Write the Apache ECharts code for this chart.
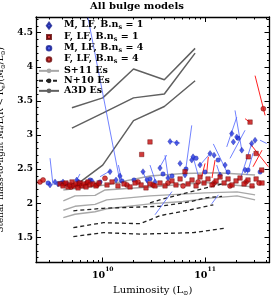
<!DOCTYPE html>
<html><head><meta charset="utf-8">
<script src="https://cdn.jsdelivr.net/npm/echarts@6/dist/echarts.min.js"></script>
<style>html,body{margin:0;padding:0;background:#fff}#c{width:274px;height:296px}</style>
</head><body><div id="c"></div>
<script>
// x values are log10(Luminosity / Lsun), y values are M*/L
var xRange = [9.348, 11.63];
var yRange = [1.13, 4.73];
var xMajorTicks = [10, 11];
var yMajorTicks = [1.5, 2, 2.5, 3, 3.5, 4, 4.5];

// A3D Es
var a3dX = [9.699, 10.0, 10.301, 10.602, 10.903];
var a3d1 = [3.398, 3.544, 3.967, 3.811, 4.27];
var a3d2 = [3.10, 3.32, 3.544, 3.60, 4.20];
var a3d3 = [2.22, 2.558, 3.21, 3.417, 3.795];

// S+11 Es
var s11_0 = [[9.615,2.194],[10.023,2.267],[10.462,2.398],[10.785,2.435],[11.118,2.446],[11.489,2.413]];
var s11_1 = [[9.615,2.034],[9.729,2.107],[9.925,2.114],[10.023,2.194],[10.462,2.238],[11.0,2.304],[11.489,2.238]];
var s11_2 = [[9.615,1.896],[9.729,1.954],[9.925,1.983],[10.039,2.048],[10.462,2.107],[11.0,2.151],[11.313,2.165],[11.489,2.121]];
var s11_3 = [[9.615,1.787],[9.729,1.838],[9.925,1.874],[10.039,1.918],[10.462,1.990],[10.785,2.024],[11.049,2.074],[11.313,2.107],[11.489,2.049]];

// N+10 Es
var n10_1 = [[9.713,1.510],[10.006,1.568],[10.365,1.546],[10.886,1.568],[11.212,1.637]];
var n10_2 = [[9.713,1.641],[10.006,1.714],[10.365,1.699],[10.56,1.816],[10.853,1.903],[11.081,1.976]];
var n10_3 = [[9.713,1.888],[10.006,1.925],[10.56,1.954],[10.853,2.020],[11.0,2.078],[11.166,2.100]];
var n10_4 = [[10.462,2.005],[10.609,2.071],[10.853,2.165],[11.166,2.282]];

// F, LF, B.n_s = 1 (red squares)
var fN1 = [[9.583,2.282],[9.612,2.253],[9.641,2.296],[9.661,2.238],[9.680,2.267],[9.700,2.311],[9.720,2.253],[9.739,2.282],[9.759,2.224],[9.778,2.296],[9.798,2.253],[9.817,2.282],[9.837,2.238],[9.856,2.311],[9.876,2.267],[9.905,2.282],[9.934,2.253],[9.964,2.296],
[10.042,2.267],[10.091,2.311],[10.149,2.253],[10.208,2.282],[10.267,2.238],[10.316,2.296],[10.375,2.267],[10.423,2.224],[10.462,2.282],[10.511,2.253],[10.462,2.898],[10.381,2.714],[10.560,2.296],[10.609,2.253],
[10.677,2.326],[10.716,2.267],[10.756,2.355],[10.804,2.461],[10.834,2.282],[10.873,2.340],[10.912,2.253],[10.951,2.384],[10.990,2.296],[11.029,2.355],[11.068,2.267],[11.108,2.326],[11.147,2.384],[11.186,2.296],[11.225,2.355],[11.264,2.267],[11.303,2.326],[11.342,2.369],[11.381,2.282],[11.420,2.340],[11.459,2.253],[11.499,2.355],[11.440,3.189],[11.423,2.680],[11.499,2.729],[11.554,2.486],[11.557,2.296]];

// F, LF, B.n_s = 4 (red circles)
var fN4 = [[9.387,2.311],[9.417,2.340],[9.622,2.282],[9.690,2.238],[9.768,2.267],[9.846,2.296],[9.944,2.267],[10.022,2.364],[10.237,2.267],[10.345,2.311],[10.491,2.267],[10.638,2.296],[10.785,2.253],[10.932,2.311],[11.088,2.296],[11.244,2.253],[11.401,2.311],[11.570,3.385],[11.528,2.296]];

// M, LF, B.n_s = 1 (blue diamonds)
var mN1 = [[9.485,2.267],[9.534,2.311],[9.563,2.282],[9.612,2.311],[9.651,2.282],[9.746,2.340],[9.895,2.326],[10.071,2.461],[10.130,2.340],[10.169,2.398],[10.394,2.461],[10.433,2.340],[10.511,2.311],[10.723,2.883],[10.658,2.904],[10.756,2.583],[10.870,2.632],[10.883,2.680],[10.638,2.369],[10.804,2.413],[11.049,2.729],[11.088,2.704],[11.261,3.020],[11.277,2.898],[11.310,2.971],[11.456,2.875],[11.359,2.777],[11.196,2.559],[11.391,2.486],[11.147,2.413],[11.489,2.923],[10.951,2.559],[10.560,2.515]];

// M, LF, B.n_s = 4 (blue circles)
var mN4 = [[9.466,2.296],[9.593,2.296],[9.761,2.315],[9.876,2.340],[9.974,2.311],[10.188,2.326],[10.306,2.340],[10.462,2.355],[10.589,2.428],[10.677,2.398],[10.814,2.500],[11.000,2.457],[11.128,2.632],[11.225,2.457],[11.323,2.952],[11.420,2.486],[11.538,2.457],[10.912,2.660]];

// connecting segments [x1, y1, x2, y2]
var blueSegs = [[9.856,4.72,10.169,2.311],[9.485,2.660,9.514,2.267],[9.778,2.428,9.746,2.340],[9.974,2.388,10.088,2.486],[10.153,2.559,10.186,2.340],[10.511,1.830,10.677,2.170],[11.065,1.990,11.130,2.122],[10.658,2.904,10.756,2.881],[10.870,3.141,10.804,2.413],[10.883,2.680,10.932,2.413],[11.081,2.869,11.228,2.413],[11.293,3.360,11.359,2.777],[11.310,3.262,11.212,2.825],[11.391,3.069,11.244,2.657],[11.469,2.734,11.408,2.413],[11.538,2.923,11.603,2.875],[11.114,2.559,11.147,2.413],[10.462,2.559,10.511,2.340],[10.609,2.704,10.641,2.364],[10.56,2.534,10.625,2.704],[10.951,2.559,11.049,2.729],[11.342,2.340,11.456,2.875],[10.394,2.461,10.443,2.267]];
var redSegs = [[11.489,3.870,11.587,3.287],[11.391,3.239,11.440,3.185],[11.440,2.875,11.619,2.534],[11.469,2.534,11.557,2.777],[11.0,2.583,10.968,2.388],[11.032,2.680,11.016,2.438],[11.098,2.632,11.068,2.369]];

function zip(xs, ys){ return xs.map(function(x,i){return [x, ys[i]];}); }
function segData(s){ return s.map(function(a){return {coords:[[a[0],a[1]],[a[2],a[3]]]};}); }

var xMinor = [];
[9,10,11].forEach(function(n){ for (var k=2;k<=9;k++){ var v=n+Math.log10(k); if (v>xRange[0] && v<xRange[1]) xMinor.push(v);} });
var yMinor = [];
for (var i=12;i<=47;i++){ if (i%5!==0) yMinor.push(i/10); }

var FONT = 'DejaVu Serif';
var black = '#000';

function xAx(pos, ticks, len, showLine, showLabel){
  return {type:'value', min:xRange[0], max:xRange[1], position:pos,
    axisLine:{show:showLine, onZero:false, lineStyle:{color:black,width:1.3}},
    axisTick:{show:true, inside:true, length:len, customValues:ticks, lineStyle:{color:black,width:1}},
    axisLabel:{show:showLabel, customValues:ticks, margin:4,
      formatter:function(v){return '{b|10}{sup|'+Math.round(v)+'}';},
      rich:{b:{fontFamily:FONT,fontWeight:'bold',fontSize:9.5,color:black,verticalAlign:'bottom',lineHeight:14},
            sup:{fontFamily:FONT,fontWeight:'bold',fontSize:6,color:black,verticalAlign:'top',lineHeight:14}}},
    splitLine:{show:false}};
}
function yAx(pos, ticks, len, showLine, showLabel){
  return {type:'value', min:yRange[0], max:yRange[1], position:pos,
    axisLine:{show:showLine, onZero:false, lineStyle:{color:black,width:1.3}},
    axisTick:{show:true, inside:true, length:len, customValues:ticks, lineStyle:{color:black,width:1}},
    axisLabel:{show:showLabel, customValues:ticks, margin:3,
      fontFamily:FONT, fontWeight:'bold', fontSize:9, color:black},
    splitLine:{show:false}};
}

var xAxes = [xAx('bottom', xMajorTicks, 5, true, true), xAx('bottom', xMinor, 2.5, false, false),
             xAx('top', xMajorTicks, 5, true, false), xAx('top', xMinor, 2.5, false, false)];
xAxes[0].name = 'Luminosity (L{sub|⊙})';
xAxes[0].nameLocation = 'middle';
xAxes[0].nameGap = 20;
xAxes[0].nameTextStyle = {fontFamily:FONT, fontSize:10, color:black,
  rich:{sub:{fontFamily:FONT,fontSize:6.5,color:black,verticalAlign:'bottom',lineHeight:13}}};
var yAxes = [yAx('left', yMajorTicks, 5, true, true), yAx('left', yMinor, 2.5, false, false),
             yAx('right', yMajorTicks, 5, true, false), yAx('right', yMinor, 2.5, false, false)];
yAxes[0].name = 'Stellar mass-to-light M{sub|*}/L(R < R{sub|e})(M{sub|⊙}/L{sub|⊙})';
yAxes[0].nameLocation = 'middle';
yAxes[0].nameGap = 19;
yAxes[0].nameTextStyle = {fontFamily:FONT, fontSize:8.8, color:black, lineHeight:12,
  rich:{sub:{fontFamily:FONT,fontSize:6,color:black,verticalAlign:'bottom',lineHeight:12}}};

function lineS(name, data, color, width, type){
  return {type:'line', name:name, data:data, symbol:'none', silent:true, z:2,
    lineStyle:{color:color, width:width, type:type||'solid'}, itemStyle:{color:color}};
}

var series = [
  lineS('S+11 Es', s11_0, '#a8a8a8', 1.4), lineS('S+11 Es', s11_1, '#a8a8a8', 1.4),
  lineS('S+11 Es', s11_2, '#a8a8a8', 1.4), lineS('S+11 Es', s11_3, '#a8a8a8', 1.4),
  lineS('N+10 Es', n10_1, '#222', 1.3, [4,3]), lineS('N+10 Es', n10_2, '#222', 1.3, [4,3]),
  lineS('N+10 Es', n10_3, '#222', 1.3, [4,3]), lineS('N+10 Es', n10_4, '#222', 1.3, [4,3]),
  lineS('A3D Es', zip(a3dX, a3d1), '#606060', 1.5), lineS('A3D Es', zip(a3dX, a3d2), '#606060', 1.5),
  lineS('A3D Es', zip(a3dX, a3d3), '#606060', 1.5),
  {type:'lines', coordinateSystem:'cartesian2d', data:segData(blueSegs), silent:true, z:3,
    lineStyle:{color:'#4d62ff', width:0.8, opacity:1}},
  {type:'lines', coordinateSystem:'cartesian2d', data:segData(redSegs), silent:true, z:3,
    lineStyle:{color:'#ff2020', width:1, opacity:1}},
  {type:'scatter', name:'M, LF, B.n_s = 4', data:mN4, symbol:'circle', symbolSize:4.5, z:4,
    itemStyle:{color:'#2436e0', borderColor:'#101a90', borderWidth:0.4}},
  {type:'scatter', name:'M, LF, B.n_s = 1', data:mN1, symbol:'diamond', symbolSize:[4.5,6], z:4,
    itemStyle:{color:'#2436e0', borderColor:'#101a90', borderWidth:0.4}},
  {type:'scatter', name:'F, LF, B.n_s = 4', data:fN4, symbol:'circle', symbolSize:5, z:5,
    itemStyle:{color:'#cc1010', borderColor:'#6a0000', borderWidth:0.5}},
  {type:'scatter', name:'F, LF, B.n_s = 1', data:fN1, symbol:'rect', symbolSize:4.5, z:5,
    itemStyle:{color:'#c40a0a', borderColor:'#600000', borderWidth:0.5}}
];

// legend icons: small symbol centred in a 20 x 6 box
var icDiamond = 'path://M0,3L0,3M10,0L12.2,3L10,6L7.8,3ZM20,3L20,3';
var icSquare = 'path://M0,3L0,3M8,1L12,1L12,5L8,5ZM20,3L20,3';
var icCircle = 'path://M0,3L0,3M12.3,3A2.3,2.3,0,1,1,7.7,3A2.3,2.3,0,1,1,12.3,3ZM20,3L20,3';

var chart = echarts.init(document.getElementById('c'), null, {renderer:'canvas'});
chart.setOption({
  animation:false,
  backgroundColor:'#fff',
  title:{text:'All bulge models', left:'center', top:1, padding:0,
    textStyle:{fontFamily:FONT, fontWeight:'bold', fontSize:10, color:black}},
  grid:{left:36, top:17, right:4.5, bottom:33.5, outerBoundsMode:'none', containLabel:false},
  legend:{left:38, top:20, orient:'vertical', itemGap:0, itemWidth:20, itemHeight:6, padding:0,
    selectedMode:false,
    data:[{name:'M, LF, B.n_s = 1', icon:icDiamond},{name:'F, LF, B.n_s = 1', icon:icSquare},
          {name:'M, LF, B.n_s = 4', icon:icCircle},{name:'F, LF, B.n_s = 4', icon:icCircle},
          'S+11 Es','N+10 Es','A3D Es'],
    formatter:function(n){ var p=n.split('n_s'); return p.length>1 ? '{m|'+p[0]+'n}{sub|s}{m|'+p[1]+'}' : '{m|'+n+'}'; },
    textStyle:{fontFamily:FONT, fontWeight:'bold', fontSize:9.5, color:black,
      rich:{m:{fontFamily:FONT,fontWeight:'bold',fontSize:9.5,color:black,lineHeight:11.3,verticalAlign:'top'},
            sub:{fontFamily:FONT,fontWeight:'bold',fontSize:6.5,color:black,lineHeight:11.3,verticalAlign:'bottom'}}}},
  xAxis:xAxes,
  yAxis:yAxes,
  series:series
});
</script></body></html>
